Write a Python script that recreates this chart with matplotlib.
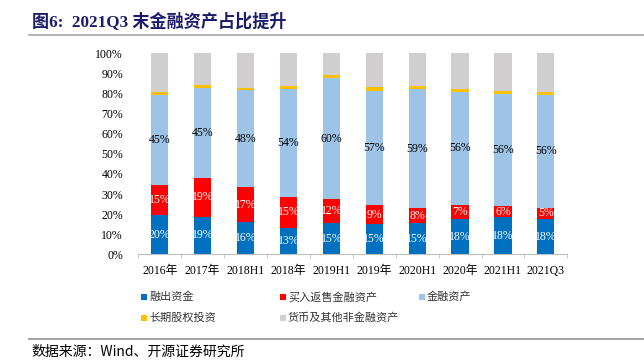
"""Recreate stacked bar chart: 2021Q3 末金融资产占比提升."""
import matplotlib
matplotlib.use("Agg")
import matplotlib.pyplot as plt
from matplotlib.lines import Line2D
from matplotlib.patches import Rectangle
from matplotlib.ticker import FuncFormatter, FixedLocator

SERIF_CJK = ["Liberation Serif", "Noto Sans CJK SC"]
CJK = ["Noto Sans CJK SC", "DejaVu Sans"]

categories = ["2016年", "2017年", "2018H1", "2018年", "2019H1",
              "2019年", "2020H1", "2020年", "2021H1", "2021Q3"]
margin_funds = [19.6, 18.8, 16.1, 13.2, 15.4, 14.9, 15.4, 17.7, 18.4, 17.6]
reverse_repo = [14.7, 19.3, 17.3, 15.3, 12.3, 9.4, 7.8, 6.9, 5.6, 5.4]
fin_assets = [45.1, 44.8, 48.1, 53.7, 59.8, 57.0, 58.8, 56.2, 56.0, 56.3]
lt_equity = [1.2, 1.1, 1.2, 1.7, 1.8, 1.7, 1.9, 1.3, 1.3, 1.5]
other = [100 - a - b - c - d for a, b, c, d in
         zip(margin_funds, reverse_repo, fin_assets, lt_equity)]

series_names = ["融出资金", "买入返售金融资产", "金融资产", "长期股权投资", "货币及其他非金融资产"]
series = [margin_funds, reverse_repo, fin_assets, lt_equity, other]
colors = ["#0070C0", "#FF0000", "#9DC3E6", "#FFC000", "#D0CECE"]
label_colors = ["white", "white", "black", None, None]

W, H = 644, 362
fig = plt.figure(figsize=(W / 100, H / 100), dpi=100)
fig.patch.set_facecolor("white")
ax = fig.add_axes([138.3 / W, 1 - 254.3 / H, (567.3 - 138.3) / W, (254.3 - 53.3) / H])

x = list(range(len(categories)))
bottom = [0.0] * len(categories)
for vals, col, lc in zip(series, colors, label_colors):
    ax.bar(x, vals, width=0.4, bottom=bottom, color=col, linewidth=0, zorder=2)
    if lc:
        for xi, b, v in zip(x, bottom, vals):
            ax.text(xi, b + v / 2, f"{v:.0f}%", ha="center", va="center",
                    fontsize=8.5, color=lc, family="Liberation Serif", zorder=3)
    bottom = [b + v for b, v in zip(bottom, vals)]

ax.set_xlim(-0.5, len(categories) - 0.5)
ax.set_ylim(0, 100)
ax.set_yticks(range(0, 101, 10))
ax.yaxis.set_major_formatter(FuncFormatter(lambda v, _: f"{v:.0f}%"))
ax.set_xticks(x)
ax.set_xticklabels(categories, family=SERIF_CJK, fontsize=8.5)
ax.xaxis.set_minor_locator(FixedLocator([i - 0.5 for i in range(len(categories) + 1)]))
ax.tick_params(axis="x", which="major", length=0, pad=8)
ax.tick_params(axis="x", which="minor", length=3, color="#BFBFBF")
ax.tick_params(axis="y", length=0, pad=11, labelsize=8.5)
for lbl in ax.get_yticklabels():
    lbl.set_family("Liberation Serif")
for side in ["top", "right", "left"]:
    ax.spines[side].set_visible(False)
ax.spines["bottom"].set_color("#BFBFBF")
ax.spines["bottom"].set_linewidth(0.8)

# title + rules
fig.text(31.5 / W, 1 - 21 / H, "图6:  2021Q3 末金融资产占比提升", ha="left", va="center",
         fontsize=12.3, fontweight="bold", color="#1B1B6B", family=SERIF_CJK)
fig.add_artist(Line2D([29 / W, 1], [1 - 35 / H] * 2, color="#A6A6A6", linewidth=1.2))
fig.add_artist(Line2D([29 / W, 1], [1 - 338.5 / H] * 2, color="#A6A6A6", linewidth=1.5))
fig.text(31.5 / W, 1 - 352 / H, "数据来源：Wind、开源证券研究所", ha="left", va="center",
         fontsize=10, color="black", family=CJK)

# legend
leg_pos = [(141, 297), (279.5, 297), (418.5, 297), (141, 318), (279.5, 318)]
for (lx, ly), name, col in zip(leg_pos, series_names, colors):
    fig.add_artist(Rectangle((lx / W, 1 - (ly + 3) / H), 6 / W, 6 / H,
                             transform=fig.transFigure, facecolor=col, edgecolor="none"))
    fig.text((lx + 8.5) / W, 1 - ly / H, name, ha="left", va="center",
             fontsize=8, color="#333333", family=CJK)

fig.savefig("out.png", dpi=100, facecolor="white")
